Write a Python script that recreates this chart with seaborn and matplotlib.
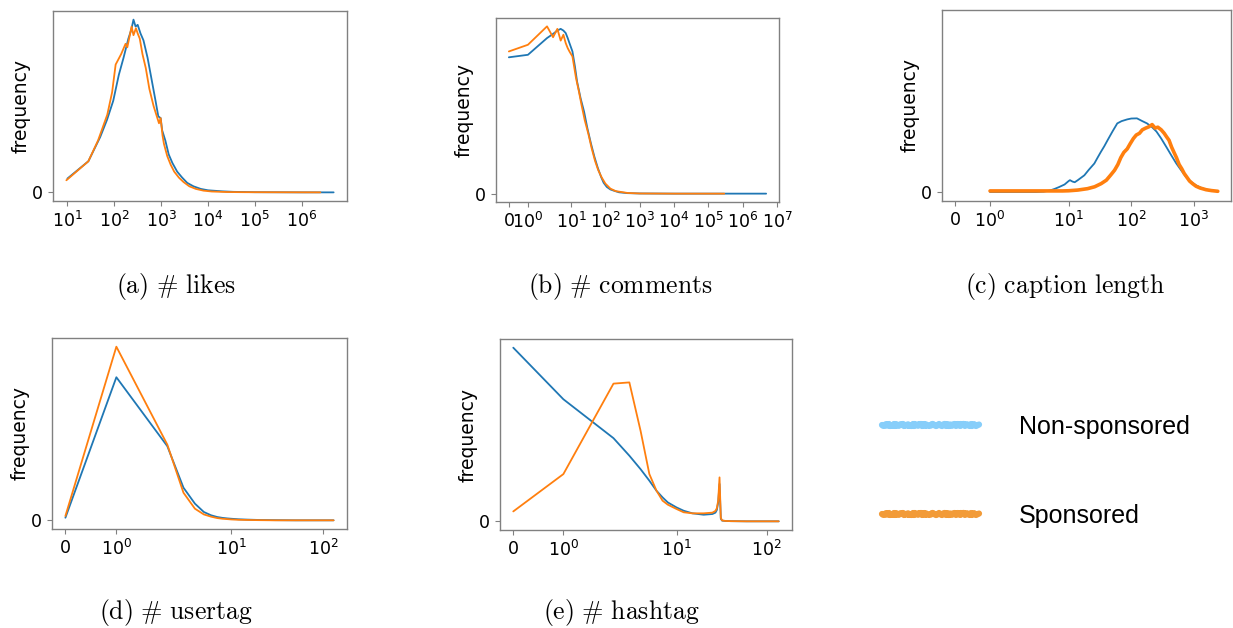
import matplotlib
matplotlib.use("Agg")
import matplotlib.pyplot as plt
import seaborn as sns
from matplotlib.lines import Line2D
from matplotlib.ticker import NullLocator

sns.set_theme(style="ticks")
plt.rcParams["font.family"] = ["DejaVu Sans"]

BLUE = "#1f77b4"
ORANGE = "#ff7f0e"

# ---- (a) number of likes ----
likes_x_non = [10, 28, 50, 70, 95, 125, 158, 200, 230, 257, 285, 316, 363, 420,
               513, 620, 760, 870, 977, 1050, 1230, 1450, 1740, 2200, 2800, 3600,
               4900, 7000, 10000, 20000, 35000, 1e5, 1e6, 4.8e6]
likes_f_non = [0.08, 0.18, 0.32, 0.42, 0.53, 0.68, 0.78, 0.89, 0.94, 1.00, 0.96,
               0.97, 0.92, 0.88, 0.78, 0.66, 0.53, 0.44, 0.43, 0.36, 0.30, 0.22,
               0.17, 0.12, 0.086, 0.055, 0.035, 0.020, 0.012, 0.006, 0.003, 0.001,
               0.0, 0.0]
likes_x_spo = [9.5, 28, 45, 71, 90, 107, 140, 174, 190, 234, 257, 290, 316, 350,
               400, 470, 560, 690, 900, 977, 1070, 1150, 1350, 1600, 1900, 2400,
               3000, 4000, 5500, 8000, 12000, 25000, 60000, 2.5e6]
likes_f_spo = [0.07, 0.18, 0.30, 0.45, 0.58, 0.74, 0.80, 0.86, 0.84, 0.96, 0.91,
               0.95, 0.92, 0.89, 0.80, 0.72, 0.60, 0.50, 0.40, 0.43, 0.33, 0.28,
               0.21, 0.16, 0.12, 0.085, 0.06, 0.035, 0.02, 0.010, 0.005, 0.002,
               0.001, 0.0]

# ---- (b) number of comments ----
comm_x_non = [0, 1, 2, 3, 4, 5, 6, 7, 8, 9, 11, 13, 15, 19, 24, 30, 38, 48, 60,
              75, 89, 110, 140, 175, 250, 440, 1000, 1e4, 1e5, 1e6, 4.8e6]
comm_f_non = [0.815, 0.83, 0.93, 0.955, 0.975, 0.985, 0.975, 0.96, 0.93, 0.90,
              0.85, 0.76, 0.67, 0.57, 0.49, 0.39, 0.30, 0.22, 0.155, 0.10, 0.065,
              0.040, 0.025, 0.018, 0.008, 0.003, 0.001, 0.0, 0.0, 0.0, 0.0]
comm_x_spo = [0, 1, 2, 3, 4, 5, 6, 7, 8, 9, 11, 14, 17, 20, 25, 32, 40, 50, 62,
              78, 100, 140, 200, 440, 1000, 1e4, 2.9e5]
comm_f_spo = [0.85, 0.89, 1.0, 0.935, 0.985, 0.915, 0.95, 0.90, 0.87, 0.85, 0.82,
              0.69, 0.61, 0.535, 0.44, 0.357, 0.27, 0.196, 0.14, 0.097, 0.06,
              0.03, 0.015, 0.004, 0.001, 0.0, 0.0]

# ---- (c) caption length ----
cap_x_non = [1, 2, 3, 4, 5, 6, 7, 8.6, 10, 10.5, 11.5, 12.5, 14, 17.8, 21, 25.7,
             29, 32.7, 37, 41.8, 50, 59.7, 70, 86, 100, 123, 150, 178, 215, 252,
             300, 364, 440, 523, 630, 750, 900, 1080, 1300, 1560, 1900, 2400]
cap_f_non = [0.002, 0.002, 0.002, 0.004, 0.01, 0.02, 0.03, 0.045, 0.065, 0.07,
             0.062, 0.058, 0.07, 0.098, 0.13, 0.166, 0.2, 0.233, 0.265, 0.30,
             0.35, 0.397, 0.41, 0.42, 0.425, 0.426, 0.41, 0.397, 0.375, 0.35,
             0.31, 0.26, 0.21, 0.166, 0.125, 0.088, 0.06, 0.04, 0.026, 0.016,
             0.01, 0.006]
cap_x_spo = [1, 2, 3, 5, 8, 10, 14, 20, 26, 33, 40, 47, 54, 61, 68, 76, 86, 96,
             108, 120, 135, 150, 170, 190, 215, 240, 265, 300, 335, 365, 400, 440,
             480, 525, 580, 640, 700, 760, 850, 950, 1080, 1250, 1560, 1900, 2400]
cap_f_spo = [0.008, 0.008, 0.008, 0.008, 0.008, 0.009, 0.013, 0.021, 0.032, 0.05,
             0.07, 0.10, 0.127, 0.16, 0.20, 0.23, 0.25, 0.28, 0.31, 0.33, 0.34,
             0.36, 0.37, 0.377, 0.39, 0.37, 0.375, 0.36, 0.34, 0.32, 0.30, 0.26,
             0.23, 0.20, 0.16, 0.135, 0.108, 0.09, 0.065, 0.05, 0.035, 0.025,
             0.015, 0.01, 0.006]

# ---- (d) number of user tags ----
utag_x = [0, 1, 2, 3, 4, 5, 6, 7, 8, 9, 10, 12, 15, 20, 30, 50, 80, 130]
utag_f_non = [0.015, 0.824, 0.427, 0.188, 0.096, 0.048, 0.029, 0.019, 0.014,
              0.011, 0.009, 0.006, 0.004, 0.002, 0.001, 0.0, 0.0, 0.0]
utag_f_spo = [0.025, 1.0, 0.436, 0.159, 0.067, 0.034, 0.021, 0.013, 0.009, 0.007,
              0.005, 0.003, 0.002, 0.001, 0.0, 0.0, 0.0, 0.0]

# ---- (e) number of hashtags ----
htag_x = [0, 1, 2, 3, 4, 5, 6, 7, 8, 10, 12, 15, 20, 25, 27, 28, 29, 30, 31, 32,
          35, 40, 60, 100, 136]
htag_f_non = [1.0, 0.703, 0.479, 0.378, 0.30, 0.234, 0.176, 0.138, 0.109, 0.08,
              0.061, 0.046, 0.038, 0.042, 0.05, 0.065, 0.11, 0.215, 0.015, 0.004,
              0.002, 0.001, 0.0, 0.0, 0.0]
htag_f_spo = [0.057, 0.272, 0.793, 0.80, 0.52, 0.272, 0.176, 0.119, 0.096, 0.071,
              0.052, 0.046, 0.046, 0.05, 0.06, 0.075, 0.12, 0.253, 0.02, 0.005,
              0.002, 0.001, 0.0, 0.0, 0.0]

captions = [r"$\mathrm{(a)\ \#\ likes}$", r"$\mathrm{(b)\ \#\ comments}$",
            r"$\mathrm{(c)\ caption\ length}$", r"$\mathrm{(d)\ \#\ usertag}$",
            r"$\mathrm{(e)\ \#\ hashtag}$"]
legend_labels = ["Non-sponsored", "Sponsored"]

W, H = 1233, 628
fig = plt.figure(figsize=(W / 100, H / 100), dpi=100)


def px_rect(x0, y0, x1, y1):
    return [x0 / W, 1 - y1 / H, (x1 - x0) / W, (y1 - y0) / H]


def panel(rect, xn, fn, xs, fs, lw_spo=1.3, xlim=None, ylim=None):
    ax = fig.add_axes(rect)
    ax.set_xscale("symlog")
    sns.lineplot(x=xn, y=fn, ax=ax, color=BLUE, lw=1.3, sort=False,
                 estimator=None)
    sns.lineplot(x=xs, y=fs, ax=ax, color=ORANGE, lw=lw_spo, sort=False,
                 estimator=None)
    ax.relim()
    ax.autoscale_view()
    ax.xaxis.set_minor_locator(NullLocator())
    if xlim is not None:
        ax.set_xlim(*xlim)
    if ylim is not None:
        ax.set_ylim(*ylim)
    ax.set_yticks([0])
    ax.set_yticklabels(["0"])
    ax.set_ylabel("frequency", fontsize=13.5, color="black", labelpad=1.5)
    ax.set_xlabel("")
    for sp in ax.spines.values():
        sp.set_visible(True)
        sp.set_color("#808080")
        sp.set_linewidth(1.0)
    ax.tick_params(axis="both", colors="#808080", labelcolor="black",
                   labelsize=12.5, length=3.5, width=0.8)
    return ax


panel(px_rect(53, 11, 347, 201), likes_x_non, likes_f_non, likes_x_spo, likes_f_spo)
panel(px_rect(496, 18, 779, 202), comm_x_non, comm_f_non, comm_x_spo, comm_f_spo)
panel(px_rect(942, 10, 1231, 201), cap_x_non, cap_f_non, cap_x_spo, cap_f_spo,
      lw_spo=2.6, xlim=(-0.38, 3900), ylim=(-0.05, 1.05))
panel(px_rect(52, 338, 347, 529), utag_x, utag_f_non, utag_x, utag_f_spo)
panel(px_rect(500, 339, 792, 530), htag_x, htag_f_non, htag_x, htag_f_spo)

# sub-figure captions
cap_pos = [(176, 286), (620, 286), (1065, 286), (176, 612), (621, 612)]
for (cx, cy), txt in zip(cap_pos, captions):
    fig.text(cx / W, 1 - cy / H, txt, math_fontfamily="cm", fontsize=18.5,
             ha="center", va="center", color="black")

# legend
handles = []
for c in ["#87cefa", "#f29b38"]:
    h = Line2D([], [], color=c, lw=4.5)
    h.set_sketch_params(scale=1.0, length=2, randomness=4)
    handles.append(h)
leg = fig.legend(handles, legend_labels, loc="center",
                 bbox_to_anchor=(1036 / W, 1 - 471.5 / H), frameon=False,
                 handlelength=3.9, handletextpad=1.6, labelspacing=2.6,
                 prop={"family": "Liberation Sans", "size": 18})
for t in leg.get_texts():
    t.set_color("black")

fig.savefig("out.png", dpi=100)
